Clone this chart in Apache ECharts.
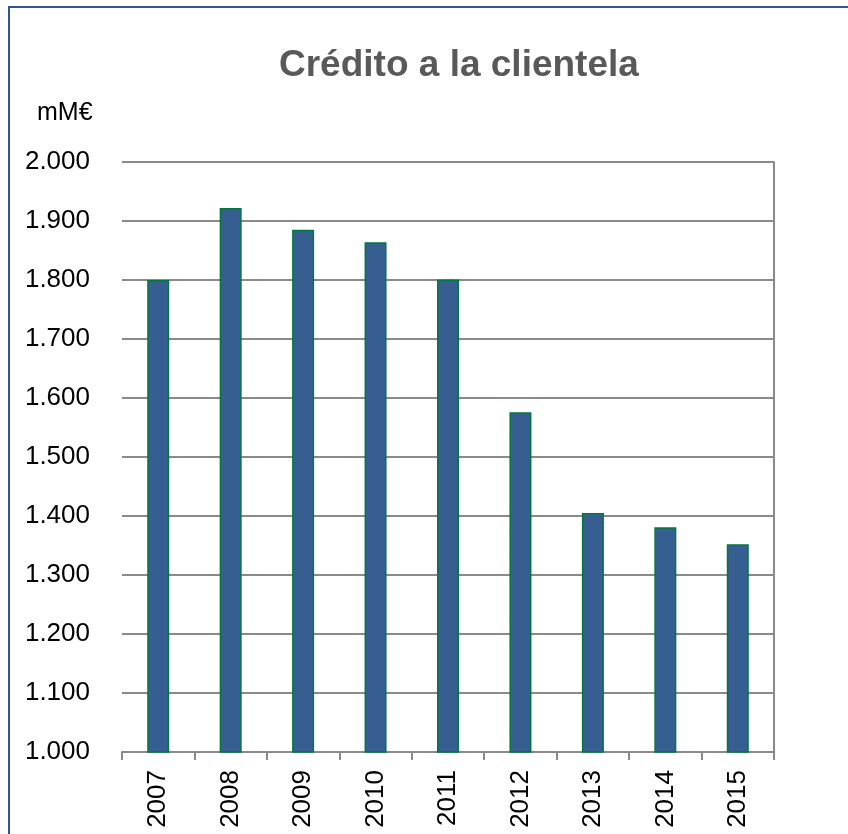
<!DOCTYPE html>
<html>
<head>
<meta charset="utf-8">
<script src="https://cdn.jsdelivr.net/npm/echarts@6/dist/echarts.min.js"></script>
<style>
  html, body { margin: 0; padding: 0; background: #fff; }
  #chart { width: 848px; height: 834px; }
</style>
</head>
<body>
<div id="chart"></div>
<script>
// datos
const years = ['2007', '2008', '2009', '2010', '2011', '2012', '2013', '2014', '2015']
const credito = [1800, 1922, 1885, 1864, 1801, 1576, 1405, 1381, 1352]
const yMin = 1000
const yMax = 2000
const yStep = 100

const font = '"Liberation Sans", Arial, sans-serif'
const gridColor = '#8a8a8a'

// 1000 -> "1.000"
const fmt = (v) => String(v).replace(/\B(?=(\d{3})+(?!\d))/g, '.')

const myChart = echarts.init(document.getElementById('chart'))

const option = {
  animation: false,
  backgroundColor: '#fff',
  textStyle: { fontFamily: font },
  title: [
    {
      text: 'Crédito a la clientela',
      left: 279,
      top: 47,
      padding: 0,
      textStyle: { color: '#595959', fontSize: 37, fontWeight: 'bold', fontFamily: font },
    },
    {
      text: 'mM€',
      left: 37,
      top: 101,
      padding: 0,
      textStyle: { color: '#000', fontSize: 25, fontWeight: 'normal', fontFamily: font },
    },
  ],
  graphic: [
    {
      type: 'rect',
      shape: { x: 9, y: 7, width: 1000, height: 1000 },
      style: { fill: 'none', stroke: '#2f5491', lineWidth: 2 },
      silent: true,
    },
  ],
  grid: {
    left: 122,
    right: 74,
    top: 162,
    bottom: 82,
    containLabel: false,
  },
  xAxis: {
    type: 'category',
    data: years,
    axisLine: { show: true, lineStyle: { color: gridColor, width: 2 } },
    axisTick: { show: true, alignWithLabel: false, length: 8, lineStyle: { color: gridColor, width: 2 } },
    axisLabel: {
      rotate: 90,
      margin: 18,
      color: '#000',
      fontSize: 26,
      fontFamily: font,
    },
    splitLine: { show: false },
  },
  yAxis: [
    {
      type: 'value',
      min: yMin,
      max: yMax,
      interval: yStep,
      axisLine: { show: false },
      axisTick: { show: false },
      axisLabel: {
        margin: 32,
        color: '#000',
        fontSize: 26,
        fontFamily: font,
        formatter: fmt,
      },
      splitLine: { show: true, lineStyle: { color: gridColor, width: 2 } },
    },
    {
      // borde derecho del area de trazado
      type: 'value',
      position: 'right',
      min: yMin,
      max: yMax,
      interval: yStep,
      axisLine: { show: true, lineStyle: { color: gridColor, width: 2 } },
      axisTick: { show: false },
      axisLabel: { show: false },
      splitLine: { show: false },
    },
  ],
  series: [
    {
      name: 'Crédito a la clientela',
      type: 'bar',
      data: credito,
      barWidth: 22,
      itemStyle: {
        color: '#375e91',
        borderColor: '#00783c',
        borderWidth: 1.5,
      },
    },
  ],
}

myChart.setOption(option)
</script>
</body>
</html>
